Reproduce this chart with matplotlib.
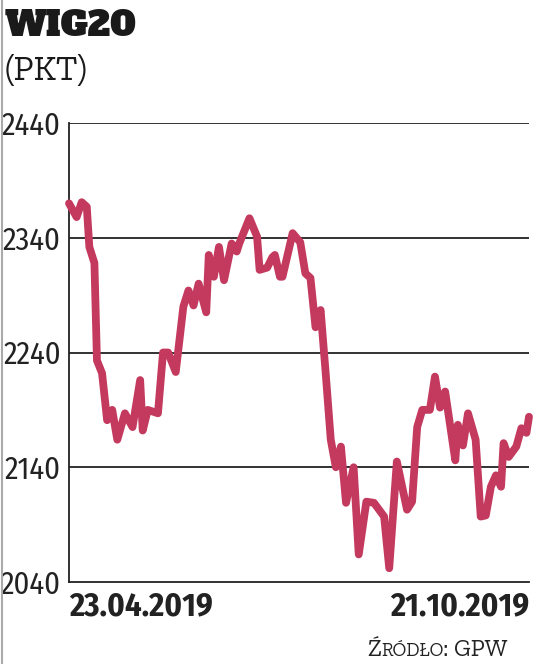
import matplotlib
matplotlib.use('Agg')
import matplotlib.pyplot as plt
from matplotlib.lines import Line2D

# calendar days since 23.04.2019 and WIG20 close (pkt)
days = [0, 3, 5, 7, 8, 10, 11, 13, 15, 17, 19, 22, 25, 28, 29, 31, 35, 37, 39, 42,
        45, 47, 49, 51, 54, 55, 57, 59, 61, 64, 66, 67, 71, 74, 75, 78, 80, 81, 83, 84,
        88, 91, 93, 95, 97, 99, 101, 103, 105, 107, 109, 112, 114, 117, 120, 124, 126, 129, 133, 135,
        137, 139, 142, 144, 146, 148, 152, 153, 155, 157, 160, 162, 164, 166, 168, 170, 171, 173, 176, 178,
        180, 181]
wig20 = [2370, 2358, 2371, 2367, 2332, 2318, 2233, 2222, 2181, 2190, 2164, 2187, 2175, 2216, 2172, 2190, 2187, 2240, 2240, 2223,
         2280, 2294, 2281, 2300, 2275, 2325, 2306, 2332, 2303, 2335, 2328, 2335, 2357, 2341, 2312, 2314, 2323, 2325, 2306, 2306,
         2344, 2336, 2309, 2305, 2262, 2277, 2222, 2164, 2140, 2158, 2109, 2140, 2064, 2110, 2109, 2097, 2052, 2145, 2103, 2110,
         2175, 2190, 2190, 2219, 2192, 2206, 2146, 2177, 2159, 2187, 2164, 2097, 2098, 2123, 2133, 2123, 2161, 2149, 2158, 2174,
         2170, 2184]
yticks = [2040, 2140, 2240, 2340, 2440]
date_labels = ['23.04.2019', '21.10.2019']

LINE = '#c43a5e'
INK = '#222222'
COND = ['Fira Sans Condensed', 'Roboto Condensed', 'DejaVu Sans']
HEAVY = ['Alfa Slab One', 'Zilla Slab', 'DejaVu Serif']
SLAB = ['Zilla Slab', 'DejaVu Serif']

W, H = 536, 664
fig = plt.figure(figsize=(W / 100, H / 100), dpi=100)
ax = fig.add_axes([69 / W, 1 - 582 / H, 460 / W, 459 / H])

ax.plot(days, wig20, color=LINE, lw=5.6, solid_capstyle='round',
        solid_joinstyle='round', clip_on=False, zorder=3)
ax.set_xlim(0, 181)
ax.set_ylim(2040, 2440)
for v in yticks[1:]:
    ax.axhline(v, color=INK, lw=1.3, zorder=1)

ax.set_yticks(yticks)
ax.set_yticklabels([str(v) for v in yticks], family=COND, fontsize=22, color=INK)
ax.tick_params(axis='y', length=0, pad=6)
ax.set_xticks([])
for s in ['top', 'right']:
    ax.spines[s].set_visible(False)
for s in ['left', 'bottom']:
    ax.spines[s].set_color(INK)
    ax.spines[s].set_linewidth(1.3)

ax.text(0, -0.02, date_labels[0], transform=ax.transAxes, ha='left', va='top',
        family=COND, fontweight='bold', fontsize=23.5, color=INK)
ax.text(1, -0.02, date_labels[1], transform=ax.transAxes, ha='right', va='top',
        family=COND, fontweight='bold', fontsize=23.5, color=INK)

fig.text(5 / W, 1 - 36 / H, 'WIG20', ha='left', va='baseline',
         family=HEAVY, fontsize=25, color='#1a1a1a')
fig.text(5 / W, 1 - 80 / H, '(PKT)', ha='left', va='baseline',
         family=SLAB, fontsize=25, color='#1a1a1a')

# source line in small caps, built piece by piece
base = 1 - 656 / H
t1 = fig.text(367 / W, base, 'Ź', ha='left', va='baseline',
              family=SLAB, fontsize=17.5, color=INK)
t2 = fig.text(0, base, 'RÓDŁO', ha='left', va='baseline', family=SLAB,
              fontsize=13.5, color=INK)
t3 = fig.text(0, base, ': GPW', ha='left', va='baseline', family=SLAB,
              fontsize=17.5, color=INK)
fig.canvas.draw()
r = fig.canvas.get_renderer()
t2.set_x(t1.get_window_extent(r).x1 / W)
fig.canvas.draw()
t3.set_x(t2.get_window_extent(r).x1 / W)

fig.add_artist(Line2D([2 / W, 2 / W], [0, 1], transform=fig.transFigure,
                      color='#aaaaaa', lw=1.5))

fig.savefig('out.png', dpi=100)
